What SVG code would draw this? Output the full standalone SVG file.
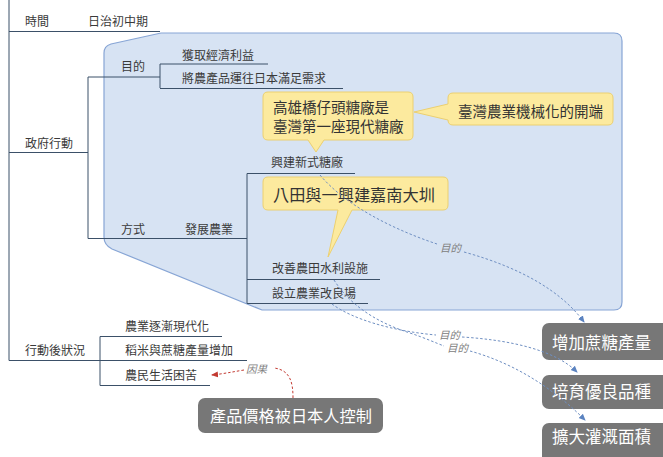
<svg xmlns="http://www.w3.org/2000/svg" width="663" height="457" viewBox="0 0 663 457">
<style>
text{font-family:"Noto Sans CJK TC","Noto Sans CJK SC",sans-serif;}
.t{font-size:12px;fill:#3a3a3a;}
.tree{fill:none;stroke:#3b5068;stroke-width:1;}
.call{fill:#fcea9e;stroke:#ecd070;stroke-width:1;}
.ct{font-size:14.5px;fill:#333;}
.gbox{fill:#777777;}
.gt{font-size:16.5px;fill:#ffffff;}
.lnk{fill:none;stroke:#6f8fc2;stroke-width:1;stroke-dasharray:2.5 2;}
.red{fill:none;stroke:#c33a32;stroke-width:1;stroke-dasharray:2.5 2;}
.lbl{font-size:10.5px;fill:#808080;font-style:italic;}
</style>
<defs>
<marker id="ab" markerWidth="8" markerHeight="8" refX="6" refY="4" orient="auto" markerUnits="userSpaceOnUse">
<path d="M0,1 L7,4 L0,7 Z" fill="#5b83c0"/>
</marker>
<marker id="ar" markerWidth="8" markerHeight="8" refX="6" refY="4" orient="auto" markerUnits="userSpaceOnUse">
<path d="M0,1 L7,4 L0,7 Z" fill="#c33a32"/>
</marker>
</defs>
<rect width="663" height="457" fill="#ffffff"/>

<g id="region">
<path d="M161,33 L614,33 Q622,33 622,41 L622,302 Q622,310 614,310 L262,310 L112,249 Q104,245 104,237 L104,53 Q104,46 111,44 Z" fill="#d7e3f3" stroke="#87a5d5" stroke-width="1.2"/>
</g>

<g id="n-time"><text class="t" x="25" y="26">時間</text><text class="t" x="88" y="26">日治初中期</text></g>
<g id="n-gov"><text class="t" x="25" y="147.5">政府行動</text></g>
<g id="n-purpose"><text class="t" x="121" y="70.5">目的</text></g>
<g id="n-p1"><text class="t" x="182" y="59.5">獲取經濟利益</text></g>
<g id="n-p2"><text class="t" x="182" y="82.5">將農產品運往日本滿足需求</text></g>
<g id="n-method"><text class="t" x="121" y="233.5">方式</text></g>
<g id="n-agri"><text class="t" x="185" y="233.5">發展農業</text></g>
<g id="n-m1"><text class="t" x="271" y="167">興建新式糖廠</text></g>
<g id="n-m2"><text class="t" x="272" y="273">改善農田水利設施</text></g>
<g id="n-m3"><text class="t" x="272" y="297.5">設立農業改良場</text></g>
<g id="n-after"><text class="t" x="25" y="354.5">行動後狀況</text></g>
<g id="n-a1"><text class="t" x="125" y="330.5">農業逐漸現代化</text></g>
<g id="n-a2"><text class="t" x="125" y="354.5">稻米與蔗糖產量增加</text></g>
<g id="n-a3"><text class="t" x="125" y="379.5">農民生活困苦</text></g>

<g id="c-1">
<path class="call" d="M268,92 H408 Q413,92 413,97 V135 Q413,140 408,140 H324 L316,152 L308,140 H268 Q263,140 263,135 V97 Q263,92 268,92 Z"/>
<text class="ct" x="273" y="113">高雄橋仔頭糖廠是</text>
<text class="ct" x="273" y="132">臺灣第一座現代糖廠</text>
</g>
<g id="c-2">
<path class="call" d="M453,93 H608 Q613,93 613,98 V120 Q613,125 608,125 H453 Q448,125 448,120 L414,112 L448,104 V98 Q448,93 453,93 Z"/>
<text class="ct" x="458" y="117">臺灣農業機械化的開端</text>
</g>
<g id="c-3">
<path class="call" d="M268,177 H443 Q448,177 448,182 V205 Q448,210 443,210 H352 L328,257 L338,210 H268 Q263,210 263,205 V182 Q263,177 268,177 Z"/>
<text class="ct" style="font-size:16.2px" x="273" y="201">八田與一興建嘉南大圳</text>
</g>

<g id="g-1"><rect class="gbox" x="542" y="323" width="128" height="37" rx="7"/><text class="gt" x="552" y="349">增加蔗糖產量</text></g>
<g id="g-2"><rect class="gbox" x="542" y="375" width="128" height="34" rx="7"/><text class="gt" x="552" y="398">培育優良品種</text></g>
<g id="g-3"><rect class="gbox" x="542" y="423" width="128" height="40" rx="7"/><text class="gt" x="552" y="443">擴大灌溉面積</text></g>
<g id="g-4"><rect class="gbox" x="198" y="398" width="185" height="35" rx="7"/><text class="gt" style="font-size:16.2px" x="210" y="422">產品價格被日本人控制</text></g>

<g id="connectors">
<path class="tree" d="M9,0 V360.5 M9,31.5 H160 M9,152.5 H88 M88,77 V238.5 M88,77 H160 M160,64 V88 M160,64 H268 M160,88.5 H343 M88,238.5 H247 M247,173.5 V303.5 M247,173.5 H355 M247,279.5 H380 M247,303.5 H368 M9,360.5 H247 M100,336.5 V385.5 M100,336.5 H222 M100,385.5 H210"/>
<path class="lnk" d="M320,175 C345,205 392,229 437,244"/>
<path class="lnk" d="M464,252 C522,268 562,292 584,322" marker-end="url(#ab)"/>
<path class="lnk" d="M332,304 C352,319 392,331 436,335"/>
<path class="lnk" d="M462,337 C510,340 555,350 577,372" marker-end="url(#ab)"/>
<path class="lnk" d="M334,280 C348,302 372,321 410,333 C425,338 436,343 444,346"/>
<path class="lnk" d="M470,351 C510,362 550,385 585,420" marker-end="url(#ab)"/>
<path class="red" d="M293,398 C293,382 290,370 274,368"/>
<path class="red" d="M244,370 C232,372 222,374 212,375" marker-end="url(#ar)"/>
<text class="lbl" x="440" y="252">目的</text>
<text class="lbl" x="439" y="339">目的</text>
<text class="lbl" x="447" y="352">目的</text>
<text class="lbl" x="246" y="373">因果</text>
</g>
</svg>
